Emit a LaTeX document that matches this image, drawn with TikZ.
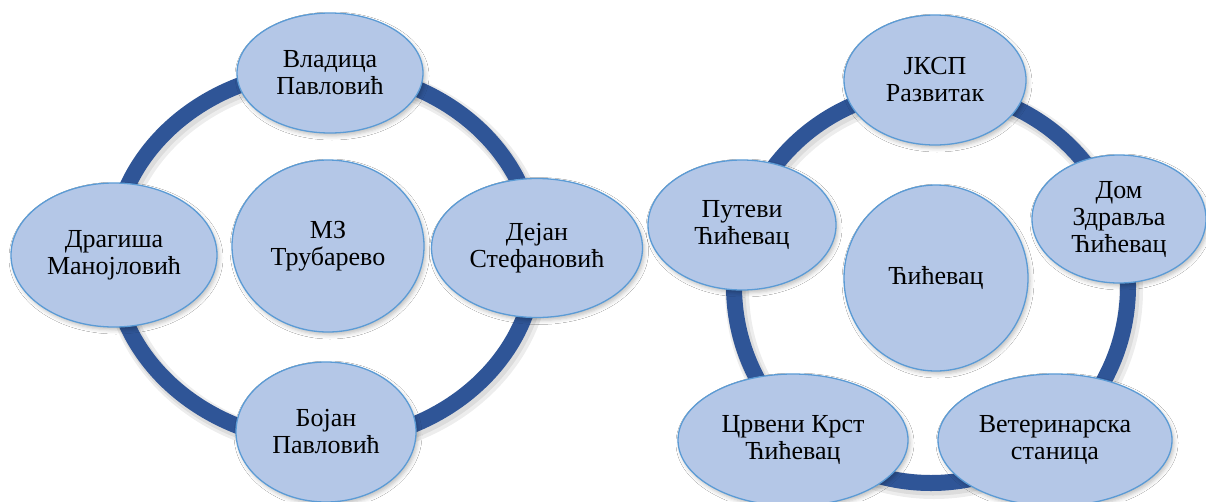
\documentclass[tikz,border=0pt]{standalone}
\usepackage{fontspec}
\setmainfont{Liberation Serif}
\usetikzlibrary{shapes.geometric,shadows.blur}
\definecolor{nodefill}{HTML}{B4C7E7}
\definecolor{nodeline}{HTML}{5B9BD5}
\definecolor{ringblue}{HTML}{2F5597}
\tikzset{
  bubble/.style={ellipse, fill=nodefill, draw=nodeline, line width=1.3pt,
    inner sep=0pt, align=center, font=\rmfamily\fontsize{26}{27}\selectfont,
    blur shadow={shadow xshift=2pt, shadow yshift=-3pt, shadow blur radius=4pt, shadow opacity=25}},
  ringline/.style={draw=ringblue, line width=16pt},
  ringshade/.style={draw=black, line width=#1, opacity=0.07},
}
\begin{document}
\begin{tikzpicture}[x=1pt,y=-1pt]
\useasboundingbox[fill=white] (0,0) rectangle (1206,501);

% ---------- left cycle ----------
\coordinate (lc) at (324,256);
\draw[ringshade=24pt] ([shift={(3,4)}]lc) ellipse [x radius=212, y radius=186];
\draw[ringshade=19pt] ([shift={(2,3)}]lc) ellipse [x radius=212, y radius=186];
\draw[ringline] (lc) ellipse [x radius=212, y radius=186];

\node[bubble, minimum width=186pt, minimum height=120pt] (vlad) at (330,73) {Владица\\Павловић};
\node[bubble, minimum width=192pt, minimum height=172pt] (mz) at (328,246) {МЗ\\Трубарево};
\node[bubble, minimum width=206pt, minimum height=144pt] (drag) at (114,255) {Драгиша\\Манојловић};
\node[bubble, minimum width=211pt, minimum height=139pt] (dej) at (537,248) {Дејан\\Стефановић};
\node[bubble, minimum width=180pt, minimum height=140pt] (boj) at (326,432) {Бојан\\Павловић};

% ---------- right cycle ----------
\coordinate (rc) at (931,286);
\draw[ringshade=24pt] ([shift={(3,4)}]rc) circle [radius=197];
\draw[ringshade=19pt] ([shift={(2,3)}]rc) circle [radius=197];
\draw[ringline] (rc) circle [radius=197];

\node[bubble, minimum width=182pt, minimum height=130pt] (jksp) at (935,80) {ЈКСП\\Развитак};
\node[bubble, minimum width=184pt, minimum height=186pt] (cic) at (936,278) {Ћићевац};
\node[bubble, minimum width=188pt, minimum height=130pt] (put) at (742,225) {Путеви\\Ћићевац};
\node[bubble, minimum width=174pt, minimum height=128pt] (dom) at (1119,219) {Дом\\Здравља\\Ћићевац};
\node[bubble, minimum width=230pt, minimum height=132pt] (crk) at (793,440) {Црвени Крст\\Ћићевац};
\node[bubble, minimum width=234pt, minimum height=132pt] (vet) at (1055,440) {Ветеринарска\\станица};
\end{tikzpicture}
\end{document}
